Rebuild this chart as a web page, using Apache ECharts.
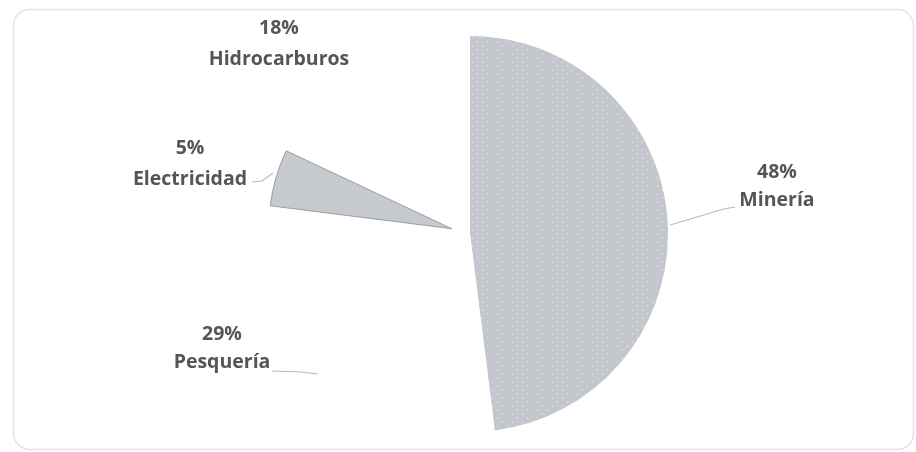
<!DOCTYPE html>
<html>
<head>
<meta charset="utf-8">
<script src="https://cdn.jsdelivr.net/npm/echarts@6/dist/echarts.min.js"></script>
<style>
html,body{margin:0;padding:0;background:#fff;}
#chart{width:916px;height:452px;}
</style>
</head>
<body>
<div id="chart"></div>
<script>
// Data
const categories = ['Minería', 'Pesquería', 'Electricidad', 'Hidrocarburos'];
const values = [48, 29, 5, 18];

// Layout / style (not data)
const center = [470, 234];
const sliceStyle = {
  'Minería':       { r: 198, explode: 0,  fill: '#c3c6cc', border: null },
  'Pesquería':     { r: 183, explode: 0,  fill: '#ffffff', border: null },
  'Electricidad':  { r: 183, explode: 19, fill: '#c6c9cd', border: '#9a9ea3' },
  'Hidrocarburos': { r: 183, explode: 0,  fill: '#ffffff', border: null }
};
const labelPos = {
  'Minería':       { x: 777, y: 186, lh: 28, line: [[670, 225], [724, 209], [735, 207]] },
  'Pesquería':     { x: 222, y: 348, lh: 28, line: [[272, 371], [300, 372], [318, 374]] },
  'Electricidad':  { x: 190, y: 164, lh: 31, line: [[252, 182], [262, 181], [273, 173]] },
  'Hidrocarburos': { x: 279, y: 44,  lh: 31, line: null }
};

const total = values.reduce((a, b) => a + b, 0);
const hidden = { itemStyle: { color: 'rgba(0,0,0,0)', borderWidth: 0 }, label: { show: false }, labelLine: { show: false }, emphasis: { disabled: true } };

const series = categories.map((cat, k) => {
  const st = sliceStyle[cat];
  const lp = labelPos[cat];
  // explode along the slice bisector (clockwise from 12 o'clock)
  const before = values.slice(0, k).reduce((a, b) => a + b, 0);
  const midAngle = (before + values[k] / 2) / total * 2 * Math.PI;
  const c = [center[0] + st.explode * Math.sin(midAngle), center[1] - st.explode * Math.cos(midAngle)];
  const data = categories.map((name, i) => {
    if (i !== k) return Object.assign({ name: '_' + name, value: values[i] }, hidden);
    const item = {
      name: name, value: values[i],
      itemStyle: { color: st.fill, borderWidth: st.border ? 1 : 0, borderColor: st.border || 'transparent' },
      label: {
        show: true, color: '#555555', fontFamily: 'Open Sans', fontWeight: 'bold',
        fontSize: 19.5, lineHeight: lp.lh,
        formatter: p => p.value + '%\n' + p.name
      },
      labelLine: { show: !!lp.line, lineStyle: { color: '#b8b8b8', width: 1.1 } }
    };
    if (name === 'Minería') {
      item.itemStyle.decal = { symbol: 'circle', symbolSize: 0.45, dashArrayX: [[5, 5], [0, 5, 5, 0]], dashArrayY: [4, 0], color: 'rgba(255,255,255,0.35)' };
    }
    return item;
  });
  return {
    type: 'pie', center: c, radius: [0, st.r], startAngle: 90, clockwise: true,
    avoidLabelOverlap: false, silent: true, z: k === 0 ? 1 : 2,
    labelLayout: function (params) {
      if (params.dataIndex !== k) return {};
      const res = { x: lp.x, y: lp.y, align: 'center', verticalAlign: 'middle' };
      if (lp.line) res.labelLinePoints = lp.line;
      return res;
    },
    data: data
  };
});

const chart = echarts.init(document.getElementById('chart'), null, { renderer: 'canvas' });
chart.setOption({
  animation: false,
  backgroundColor: '#ffffff',
  graphic: [{
    type: 'rect', left: 11, top: 7, shape: { width: 900, height: 440, r: 16 },
    style: { fill: 'none', stroke: '#e2e2e2', lineWidth: 1.5 }, z: -1
  }],
  series: series
});
</script>
</body>
</html>
